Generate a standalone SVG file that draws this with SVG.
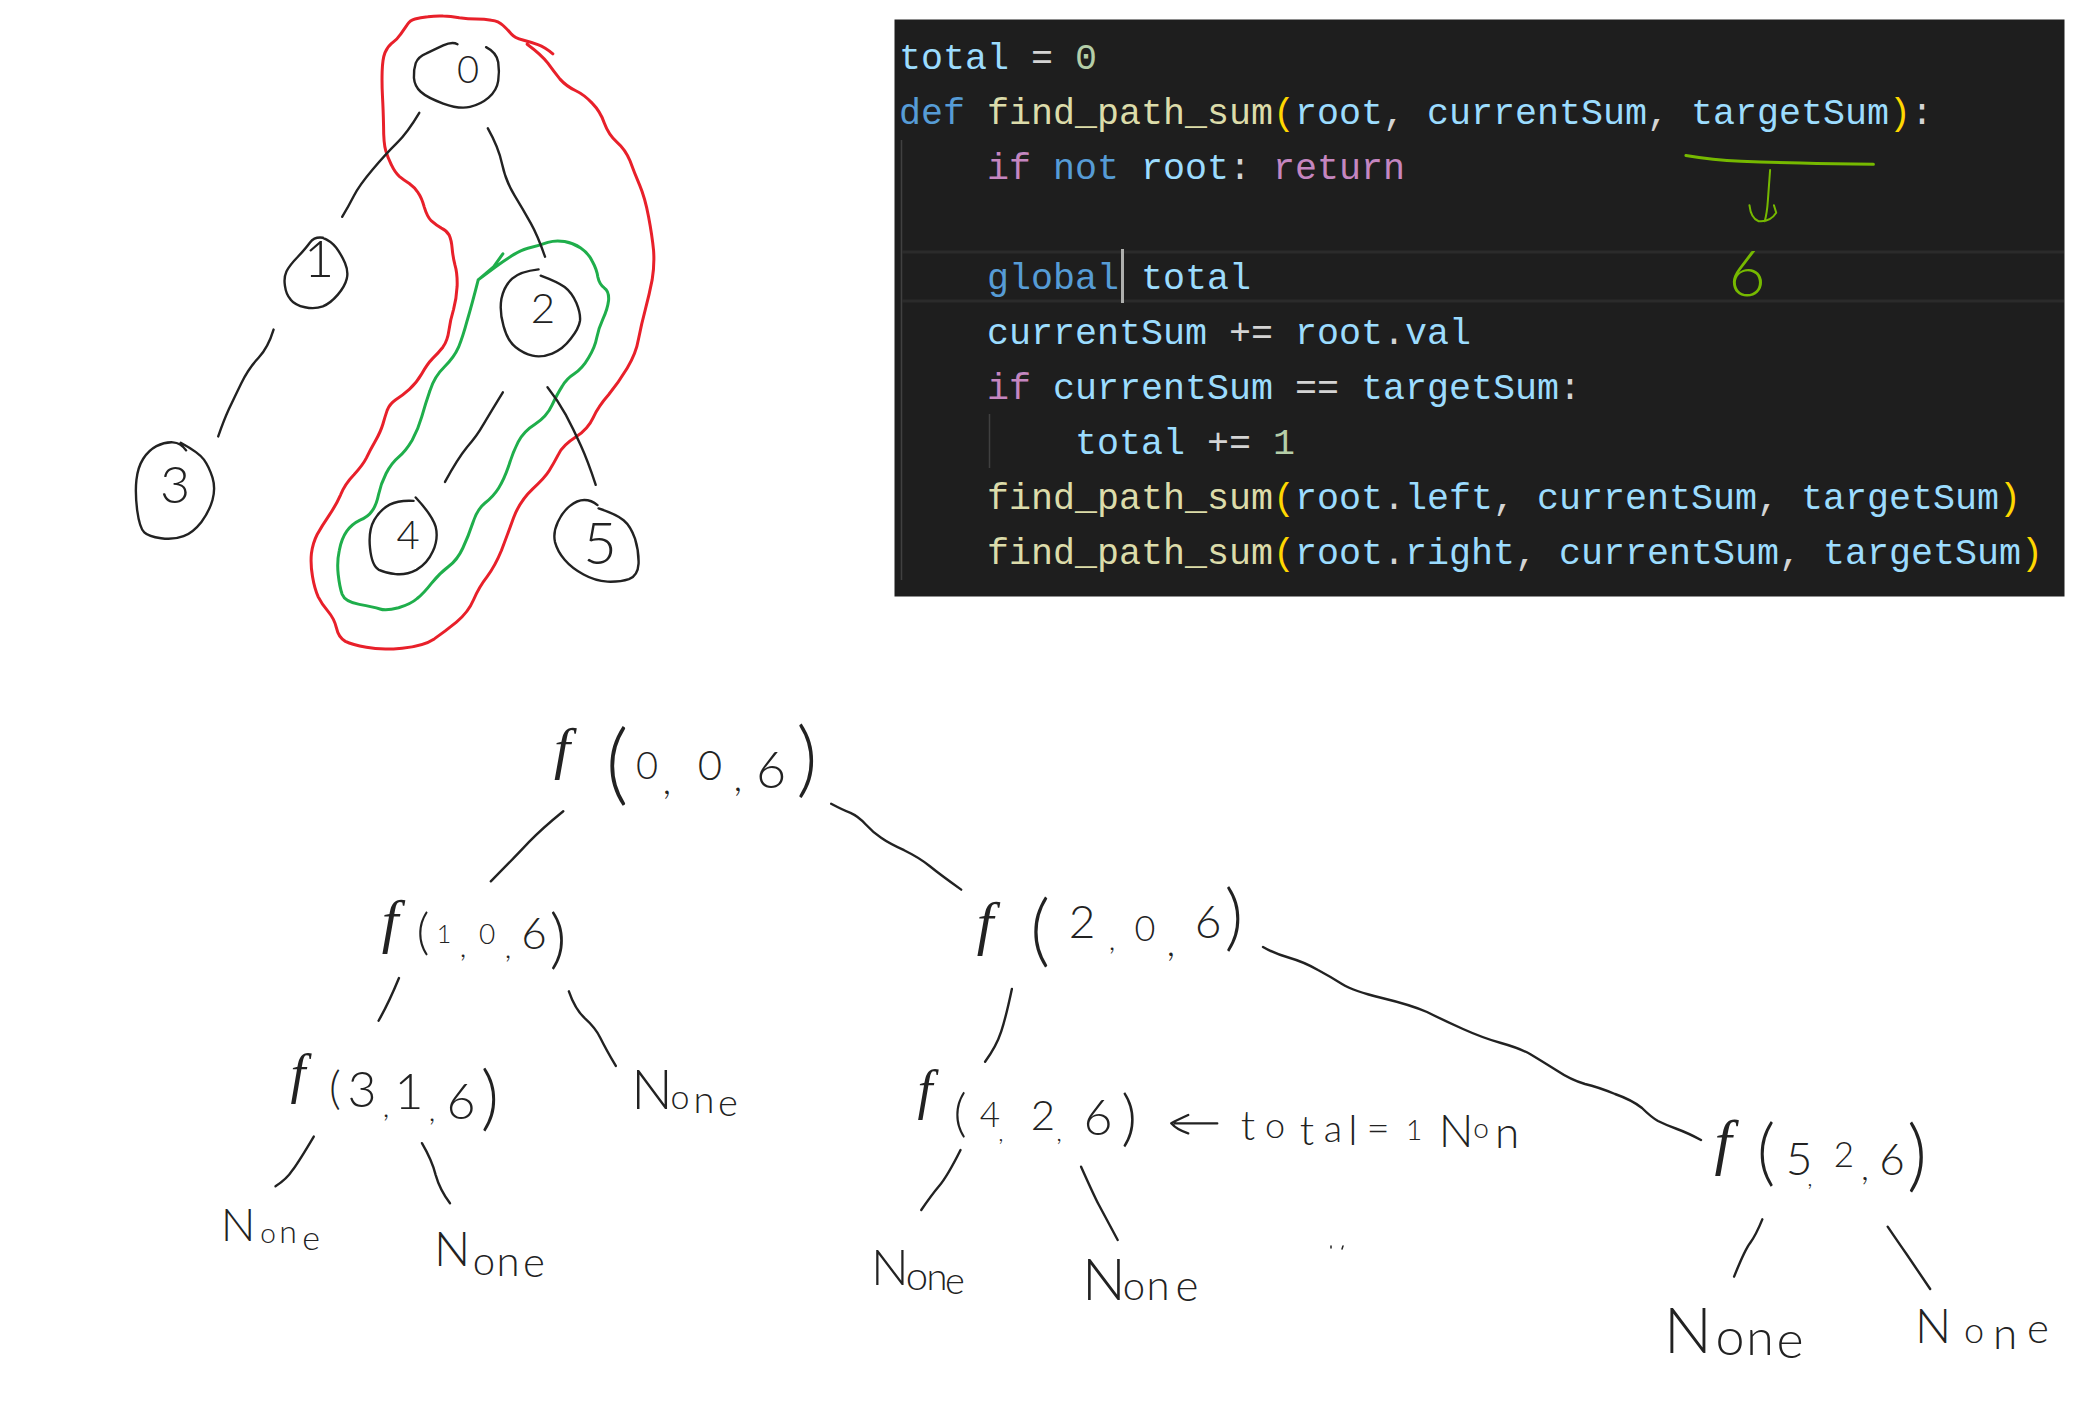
<svg xmlns="http://www.w3.org/2000/svg" width="2090" height="1409" viewBox="0 0 2090 1409">
<style>
.ink{fill:none;stroke:#222;stroke-width:2.4;stroke-linecap:round;stroke-linejoin:round;vector-effect:non-scaling-stroke}
.red{fill:none;stroke:#e8202a;stroke-width:3;stroke-linecap:round;stroke-linejoin:round;vector-effect:non-scaling-stroke}
.grn{fill:none;stroke:#1fae4b;stroke-width:3;stroke-linecap:round;stroke-linejoin:round;vector-effect:non-scaling-stroke}
.lime{fill:none;stroke:#76b900;stroke-width:2;stroke-linecap:round;stroke-linejoin:round;vector-effect:non-scaling-stroke}
.h{font-family:"Lato","Open Sans",sans-serif;font-weight:300;fill:#222;text-anchor:middle}
.f{font-family:"Liberation Serif",serif;font-style:italic}
.code{font-family:"Liberation Mono",monospace;font-size:36.66px;fill:#d4d4d4;white-space:pre}
.v{fill:#9cdcfe}.n{fill:#b5cea8}.k{fill:#569cd6}.fn{fill:#dcdcaa}.b{fill:#ffd700}.c{fill:#c586c0}
</style>
<rect width="2090" height="1409" fill="#fff"/>

<g id="code-panel">
<rect x="894.500" y="19.500" width="1170" height="577" fill="#1e1e1e"/>
<path d="M901.500 140V580M989.500 414V468" stroke="#404040" stroke-width="1.500" fill="none"/>
<path d="M902 252H2064M902 301H2064" stroke="#2b2b2b" stroke-width="3" fill="none"/>
<text class="code" xml:space="preserve"><tspan x="899" y="69"><tspan class="v">total</tspan> = <tspan class="n">0</tspan></tspan><tspan x="899" y="124"><tspan class="k">def</tspan> <tspan class="fn">find_path_sum</tspan><tspan class="b">(</tspan><tspan class="v">root</tspan>, <tspan class="v">currentSum</tspan>, <tspan class="v">targetSum</tspan><tspan class="b">)</tspan>:</tspan><tspan x="987" y="179"><tspan class="c">if</tspan> <tspan class="k">not</tspan> <tspan class="v">root</tspan>: <tspan class="c">return</tspan></tspan><tspan x="987" y="289"><tspan class="k">global</tspan> <tspan class="v">total</tspan></tspan><tspan x="987" y="344"><tspan class="v">currentSum</tspan> += <tspan class="v">root</tspan>.<tspan class="v">val</tspan></tspan><tspan x="987" y="399"><tspan class="c">if</tspan> <tspan class="v">currentSum</tspan> == <tspan class="v">targetSum</tspan>:</tspan><tspan x="1075" y="454"><tspan class="v">total</tspan> += <tspan class="n">1</tspan></tspan><tspan x="987" y="509"><tspan class="fn">find_path_sum</tspan><tspan class="b">(</tspan><tspan class="v">root</tspan>.<tspan class="v">left</tspan>, <tspan class="v">currentSum</tspan>, <tspan class="v">targetSum</tspan><tspan class="b">)</tspan></tspan><tspan x="987" y="564"><tspan class="fn">find_path_sum</tspan><tspan class="b">(</tspan><tspan class="v">root</tspan>.<tspan class="v">right</tspan>, <tspan class="v">currentSum</tspan>, <tspan class="v">targetSum</tspan><tspan class="b">)</tspan></tspan></text>
<rect x="1121" y="249" width="3" height="54" fill="#aeafad"/>
<g transform="translate(890 10) scale(.7653 .3827)">
<path class="lime" style="stroke-width:3" d="M1040 380Q1075 392 1112 395Q1150 398 1190 400Q1230 403 1285 403"/>
<path class="lime" d="M1150 418L1147 500Q1146 530 1143 552M1123 510Q1125 545 1135 552Q1150 555 1158 530L1155 510"/>
</g>
<text x="1747" y="296" font-size="64" style="font-family:Lato,sans-serif;font-weight:300;fill:#76b900;text-anchor:middle">6</text>
</g>

<g id="outline-red" transform="translate(120 0) scale(.35714 .42088)">
<path class="red" d="M1212 128Q1190 112 1170 106Q1150 100 1128 95Q1105 90 1095 80Q1085 70 1072 60Q1060 50 1040 48Q1020 45 998 45Q975 45 950 42Q925 38 905 38Q885 37 862 40Q840 42 826 45Q812 48 804 59Q795 70 785 82Q775 95 762 102Q750 110 742 125Q735 140 734 170Q733 200 735 230Q737 260 738 300Q738 340 744 358Q750 375 760 392Q770 410 782 419Q795 428 810 436Q825 445 835 458Q845 470 852 492Q860 515 872 525Q885 535 900 542Q915 548 922 559Q928 570 930 590Q932 610 938 630Q945 650 944 680Q942 710 934 735Q925 760 921 785Q917 810 904 825Q890 840 875 852Q860 865 845 888Q830 910 810 925Q790 940 772 950Q755 960 748 975Q742 990 736 1008Q730 1025 715 1048Q700 1070 690 1088Q680 1105 655 1128Q630 1150 618 1175Q605 1200 585 1225Q565 1250 552 1270Q540 1290 536 1315Q533 1340 539 1370Q545 1400 555 1418Q565 1435 582 1452Q600 1470 606 1492Q612 1515 631 1524Q650 1532 690 1538Q730 1545 790 1540Q850 1535 880 1518Q910 1500 942 1478Q975 1455 990 1425Q1005 1395 1028 1370Q1050 1345 1068 1308Q1085 1270 1102 1230Q1120 1190 1155 1162Q1190 1135 1202 1118Q1215 1100 1228 1079Q1240 1058 1275 1039Q1310 1020 1325 992Q1340 965 1368 938Q1395 910 1420 875Q1445 840 1452 805Q1460 770 1471 735Q1482 700 1490 665Q1497 630 1494 595Q1490 560 1480 515Q1470 470 1455 440Q1440 410 1428 382Q1415 355 1392 338Q1368 320 1356 292Q1345 265 1322 245Q1300 225 1275 215Q1250 205 1232 188Q1215 170 1198 150Q1180 130 1140 105"/>
</g>
<g id="outline-green" transform="translate(120 0) scale(.35714 .42088)">
<path class="grn" d="M1072 603L1045 635L1003 665L1050 635Q1110 597 1142 590Q1175 583 1198 576Q1220 570 1245 574Q1270 578 1290 589Q1310 600 1322 620Q1335 640 1338 658Q1342 675 1356 684Q1370 692 1368 714Q1365 735 1352 758Q1340 780 1335 802Q1330 825 1312 850Q1295 875 1272 888Q1250 900 1238 918Q1225 935 1210 962Q1195 990 1162 1008Q1130 1025 1115 1050Q1100 1075 1088 1108Q1075 1140 1060 1160Q1045 1180 1022 1195Q1000 1210 988 1242Q975 1275 960 1302Q945 1330 920 1346Q895 1362 872 1386Q850 1410 832 1422Q815 1435 780 1444Q745 1452 728 1447Q710 1442 670 1436Q630 1430 622 1412Q615 1395 611 1365Q607 1335 614 1308Q620 1280 635 1262Q650 1245 672 1236Q695 1228 706 1214Q718 1200 724 1175Q730 1150 745 1125Q760 1100 780 1086Q800 1072 818 1046Q835 1020 845 990Q855 960 868 928Q880 895 908 872Q935 850 948 825Q960 800 972 762Q985 725 1003 665"/>
</g>

<g id="connectors">
<g transform="translate(120 0) scale(.35714 .42088)">
<path class="ink" d="M838 268Q805 315 775 340Q745 365 708 402Q670 440 655 465Q640 490 622 515"/>
<path class="ink" d="M1030 305Q1060 350 1070 390Q1080 430 1105 465Q1130 500 1150 530Q1170 560 1190 610"/>
<path class="ink" d="M430 783Q415 825 388 850Q360 875 340 910Q320 945 305 972Q290 1000 275 1037"/>
<path class="ink" d="M1072 932Q1030 990 1015 1012Q1000 1035 972 1062Q945 1090 910 1145"/>
<path class="ink" d="M1197 920Q1225 950 1248 985Q1270 1020 1290 1058Q1310 1095 1332 1152"/>
</g>
<g transform="translate(200 700) scale(.5102 .41494)">
<path class="ink" d="M712 268Q670 310 645 342Q620 375 570 437"/>
<path class="ink" d="M1237 250Q1260 265 1275 272Q1290 280 1305 300Q1320 320 1335 332Q1350 345 1380 362Q1410 380 1430 400Q1450 420 1492 457"/>
<path class="ink" d="M390 670Q370 730 350 773"/>
<path class="ink" d="M723 702Q735 745 755 768Q775 790 785 815Q795 840 815 882"/>
<path class="ink" d="M223 1052Q195 1110 182 1132Q170 1155 148 1172"/>
<path class="ink" d="M435 1068Q455 1110 462 1145Q470 1180 490 1213"/>
</g>
<g transform="translate(840 860) scale(.44643 .33333)">
<path class="ink" d="M385 387Q372 470 361 515Q350 560 325 605"/>
<path class="ink" d="M270 870Q240 950 222 978Q205 1005 182 1050"/>
<path class="ink" d="M540 920Q570 1010 580 1035Q590 1060 622 1140"/>
</g>
<path class="ink" d="M1263 947Q1275 954 1290 958Q1304 962 1318 970Q1331 977 1342 984Q1353 991 1382 998Q1411 1005 1427 1012Q1443 1020 1463 1029Q1483 1038 1501 1043Q1519 1048 1530 1054Q1540 1060 1556 1070Q1571 1080 1585 1084Q1598 1087 1615 1094Q1632 1100 1642 1108Q1651 1117 1658 1121Q1666 1125 1677 1129Q1688 1133 1701 1140"/>
<g transform="translate(1500 1080) scale(.37636 .33333)">
<path class="ink" d="M697 418Q680 465 665 488Q650 510 622 590"/>
<path class="ink" d="M1030 440Q1060 490 1080 522Q1100 555 1143 627"/>
</g>
</g>

<g id="node-0">
<g transform="translate(120 0) scale(.35714 .42088)"><path class="ink" d="M945 105Q930 98 905 108Q880 118 858 127Q835 135 828 150Q822 165 823 185Q825 205 842 218Q860 232 905 246Q950 260 980 254Q1010 248 1032 232Q1055 215 1059 192Q1063 170 1059 148Q1055 125 1025 112"/></g>
<text class="h" x="468" y="83" font-size="38">0</text>
</g>
<g id="node-1">
<g transform="translate(120 0) scale(.35714 .42088)"><path class="ink" d="M568 565Q545 562 532 576Q520 590 498 610Q475 630 466 645Q458 660 462 680Q465 700 478 712Q490 725 518 730Q545 735 568 728Q590 720 610 700Q630 680 635 662Q640 645 630 625Q620 605 605 588Q590 572 568 565"/></g>
<text class="h" x="319" y="277" font-size="52">1</text>
</g>
<g id="node-2">
<g transform="translate(120 0) scale(.35714 .42088)"><path class="ink" d="M1172 640Q1120 645 1098 662Q1075 680 1068 710Q1062 740 1074 775Q1085 810 1108 825Q1130 840 1155 845Q1180 850 1210 840Q1240 830 1262 805Q1285 780 1288 762Q1290 745 1278 720Q1265 695 1245 682Q1225 670 1178 655"/></g>
<text class="h" x="543" y="323" font-size="42">2</text>
</g>
<g id="node-3">
<g transform="translate(120 0) scale(.35714 .42088)"><path class="ink" d="M185 1070Q170 1052 148 1051Q125 1050 102 1060Q80 1070 65 1090Q50 1110 46 1140Q42 1170 48 1212Q55 1255 68 1265Q80 1275 115 1279Q150 1283 178 1274Q205 1265 228 1240Q250 1215 259 1188Q268 1160 259 1135Q250 1110 235 1092Q220 1075 170 1052"/></g>
<text class="h" x="175" y="503" font-size="52">3</text>
</g>
<g id="node-4">
<g transform="translate(120 0) scale(.35714 .42088)"><path class="ink" d="M822 1190Q780 1188 755 1199Q730 1210 712 1235Q695 1260 700 1302Q705 1345 725 1354Q745 1362 772 1364Q800 1367 830 1354Q860 1340 876 1310Q892 1280 884 1252Q875 1225 828 1182"/></g>
<text class="h" x="408" y="549" font-size="40">4</text>
</g>
<g id="node-5">
<g transform="translate(120 0) scale(.35714 .42088)"><path class="ink" d="M1337 1200Q1320 1188 1300 1188Q1280 1188 1260 1202Q1240 1215 1226 1240Q1212 1265 1218 1288Q1225 1310 1245 1330Q1265 1350 1298 1365Q1330 1380 1365 1382Q1400 1383 1425 1376Q1450 1368 1452 1339Q1453 1310 1442 1280Q1430 1250 1410 1236Q1390 1222 1340 1208"/></g>
<text class="h" x="600" y="564" font-size="58">5</text>
</g>

<g id="call-0-0-6"><text class="h"><tspan class="f" x="562" y="768" font-size="58">f</tspan><tspan x="617" y="794" font-size="89">(</tspan><tspan x="647" y="779" font-size="38">0</tspan><tspan x="667" y="794" font-size="40">,</tspan><tspan x="710" y="780" font-size="42">0</tspan><tspan x="738" y="791" font-size="40">,</tspan><tspan x="771" y="788" font-size="52">6</tspan><tspan x="807" y="787" font-size="83">)</tspan></text></g>
<g id="call-1-0-6"><text class="h"><tspan class="f" x="390" y="941" font-size="60">f</tspan><tspan x="423" y="949" font-size="50">(</tspan><tspan x="444" y="943" font-size="25">1</tspan><tspan x="463" y="957" font-size="30">,</tspan><tspan x="487" y="944" font-size="28">0</tspan><tspan x="508" y="958" font-size="30">,</tspan><tspan x="534" y="949" font-size="44">6</tspan><tspan x="558" y="961" font-size="66">)</tspan></text></g>
<g id="call-3-1-6"><text class="h"><tspan class="f" x="298" y="1092" font-size="54">f</tspan><tspan x="335" y="1104" font-size="46">(</tspan><tspan x="362" y="1107" font-size="50">3</tspan><tspan x="386" y="1117" font-size="30">,</tspan><tspan x="409" y="1109" font-size="50">1</tspan><tspan x="432" y="1121" font-size="30">,</tspan><tspan x="461" y="1119" font-size="50">6</tspan><tspan x="490" y="1122" font-size="71">)</tspan></text></g>
<g id="call-2-0-6"><text class="h"><tspan class="f" x="985" y="943" font-size="60">f</tspan><tspan x="1040" y="957" font-size="78">(</tspan><tspan x="1082" y="938" font-size="46">2</tspan><tspan x="1112" y="950" font-size="30">,</tspan><tspan x="1145" y="941" font-size="36">0</tspan><tspan x="1171" y="956" font-size="40">,</tspan><tspan x="1208" y="938" font-size="46">6</tspan><tspan x="1234" y="942" font-size="73">)</tspan></text></g>
<g id="call-4-2-6"><text class="h"><tspan class="f" x="925" y="1108" font-size="54">f</tspan><tspan x="960" y="1131" font-size="51">(</tspan><tspan x="990" y="1127" font-size="35">4</tspan><tspan x="1001" y="1141" font-size="24">,</tspan><tspan x="1043" y="1130" font-size="42">2</tspan><tspan x="1059" y="1141" font-size="26">,</tspan><tspan x="1098" y="1135" font-size="50">6</tspan><tspan x="1129" y="1139" font-size="61">)</tspan></text></g>
<g id="call-5-2-6"><text class="h"><tspan class="f" x="1723" y="1163" font-size="62">f</tspan><tspan x="1766" y="1177" font-size="72">(</tspan><tspan x="1799" y="1175" font-size="46">5</tspan><tspan x="1810" y="1186" font-size="24">,</tspan><tspan x="1844" y="1167" font-size="35">2</tspan><tspan x="1865" y="1180" font-size="36">,</tspan><tspan x="1892" y="1175" font-size="44">6</tspan><tspan x="1917" y="1182" font-size="78">)</tspan></text></g>

<g id="none-a"><text class="h"><tspan x="238" y="1241" font-size="46">N</tspan><tspan x="268" y="1243" font-size="28">o</tspan><tspan x="288" y="1243" font-size="32">n</tspan><tspan x="311" y="1250" font-size="34">e</tspan></text></g>
<g id="none-b"><text class="h"><tspan x="452" y="1266" font-size="48">N</tspan><tspan x="484" y="1275" font-size="40">o</tspan><tspan x="508" y="1276" font-size="42">n</tspan><tspan x="534" y="1277" font-size="42">e</tspan></text></g>
<g id="none-c"><text class="h"><tspan x="652" y="1109" font-size="55">N</tspan><tspan x="680" y="1109" font-size="34">o</tspan><tspan x="704" y="1113" font-size="38">n</tspan><tspan x="728" y="1116" font-size="38">e</tspan></text></g>
<g id="none-d"><text class="h"><tspan x="890" y="1285" font-size="50">N</tspan><tspan x="917" y="1290" font-size="40">o</tspan><tspan x="937" y="1290" font-size="38">n</tspan><tspan x="955" y="1294" font-size="38">e</tspan></text></g>
<g id="none-e"><text class="h"><tspan x="1104" y="1300" font-size="58">N</tspan><tspan x="1134" y="1300" font-size="40">o</tspan><tspan x="1158" y="1300" font-size="42">n</tspan><tspan x="1187" y="1301" font-size="44">e</tspan></text></g>
<g id="none-f"><text class="h"><tspan x="1688" y="1353" font-size="64">N</tspan><tspan x="1730" y="1355" font-size="52">o</tspan><tspan x="1760" y="1355" font-size="50">n</tspan><tspan x="1790" y="1358" font-size="52">e</tspan></text></g>
<g id="none-g"><text class="h"><tspan x="1933" y="1343" font-size="48">N</tspan><tspan x="1974" y="1343" font-size="36">o</tspan><tspan x="2005" y="1349" font-size="44">n</tspan><tspan x="2038" y="1343" font-size="42">e</tspan></text></g>

<g id="total-note">
<g transform="translate(840 860) scale(.44643 .33333)"><path class="ink" d="M845 790H750M780 765Q755 780 742 790Q755 810 780 820"/></g>
<text class="h"><tspan x="1248" y="1140" font-size="42">t</tspan><tspan x="1275" y="1138" font-size="36">o</tspan><tspan x="1307" y="1145" font-size="42">t</tspan><tspan x="1333" y="1142" font-size="38">a</tspan><tspan x="1353" y="1145" font-size="42">l</tspan><tspan x="1378" y="1142" font-size="40">=</tspan><tspan x="1414" y="1140" font-size="28">1</tspan></text>
<text class="h"><tspan x="1456" y="1147" font-size="46">N</tspan><tspan x="1481" y="1138" font-size="28">o</tspan><tspan x="1507" y="1148" font-size="44">n</tspan></text>
</g>
<path id="dots" class="ink" style="stroke-width:1.500" d="M1331 1246V1248M1343 1246L1342 1249"/>
</svg>
